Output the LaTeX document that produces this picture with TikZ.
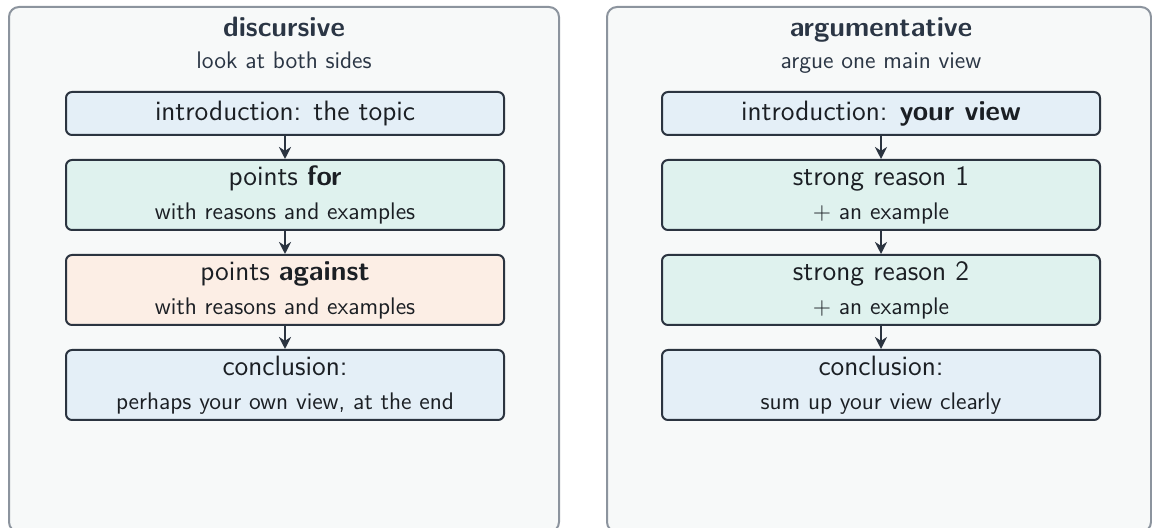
\documentclass[tikz,border=0pt]{standalone}
\usepackage{tikz}
\usetikzlibrary{arrows.meta, positioning}
\renewcommand{\familydefault}{\sfdefault}

\definecolor{panelfill}{HTML}{F7F9F9}
\definecolor{panelline}{HTML}{8C949E}
\definecolor{boxline}{HTML}{2B3440}
\definecolor{boxtext}{HTML}{1B1F24}
\definecolor{introfill}{HTML}{E4EFF7}
\definecolor{forfill}{HTML}{DFF2EE}
\definecolor{againstfill}{HTML}{FCEEE5}
\definecolor{headtext}{HTML}{2B3645}

\newcommand{\boxnote}[1]{{\fontsize{12}{14}\selectfont #1}}

\begin{document}
\begin{tikzpicture}[
    x=0.5pt, y=-0.5pt,
    node distance=11.5pt,
    panel/.style={rectangle, draw=panelline, fill=panelfill, line width=1pt, rounded corners=5pt, minimum height=262.5pt},
    title/.style={font=\bfseries\fontsize{14}{17}\selectfont, text=headtext, anchor=base},
    subtitle/.style={font=\fontsize{12}{14}\selectfont, text=headtext, anchor=base},
    box/.style={rectangle, draw=boxline, line width=1pt, rounded corners=3pt, minimum width=219pt, align=center, text=boxtext, font=\fontsize{14}{17}\selectfont, inner sep=0pt},
    onebox/.style={box, minimum height=21.5pt},
    twobox/.style={box, minimum height=35pt},
    arrow/.style={-{Stealth[length=6pt, width=6pt]}, line width=1.1pt, boxline}
]
\useasboundingbox (0,0) rectangle (1152,528);

% ============ DISCURSIVE ============
\node[panel, minimum width=275pt] (disc) at (284,269.5) {};
\node[title] (disc_title) at (284,37) {discursive};
\node[subtitle] (disc_sub) at (284,69) {look at both sides};

\node[onebox, fill=introfill] (disc_intro) at (285,113.5) {introduction: the topic};
\node[twobox, fill=forfill, below=of disc_intro] (disc_for) {points \textbf{for}\\[0pt]\boxnote{with reasons and examples}};
\node[twobox, fill=againstfill, below=of disc_for] (disc_against) {points \textbf{against}\\[0pt]\boxnote{with reasons and examples}};
\node[twobox, fill=introfill, below=of disc_against] (disc_concl) {conclusion:\\[0pt]\boxnote{perhaps your own view, at the end}};

\draw[arrow] (disc_intro) -- (disc_for);
\draw[arrow] (disc_for) -- (disc_against);
\draw[arrow] (disc_against) -- (disc_concl);

% ============ ARGUMENTATIVE ============
\node[panel, minimum width=272pt] (arg) at (879,269.5) {};
\node[title] (arg_title) at (881,37) {argumentative};
\node[subtitle] (arg_sub) at (881,69) {argue one main view};

\node[onebox, fill=introfill] (arg_intro) at (881,113.5) {introduction: \textbf{your view}};
\node[twobox, fill=forfill, below=of arg_intro] (arg_r1) {strong reason 1\\[0pt]\boxnote{$+$ an example}};
\node[twobox, fill=forfill, below=of arg_r1] (arg_r2) {strong reason 2\\[0pt]\boxnote{$+$ an example}};
\node[twobox, fill=introfill, below=of arg_r2] (arg_concl) {conclusion:\\[0pt]\boxnote{sum up your view clearly}};

\draw[arrow] (arg_intro) -- (arg_r1);
\draw[arrow] (arg_r1) -- (arg_r2);
\draw[arrow] (arg_r2) -- (arg_concl);

\end{tikzpicture}
\end{document}
